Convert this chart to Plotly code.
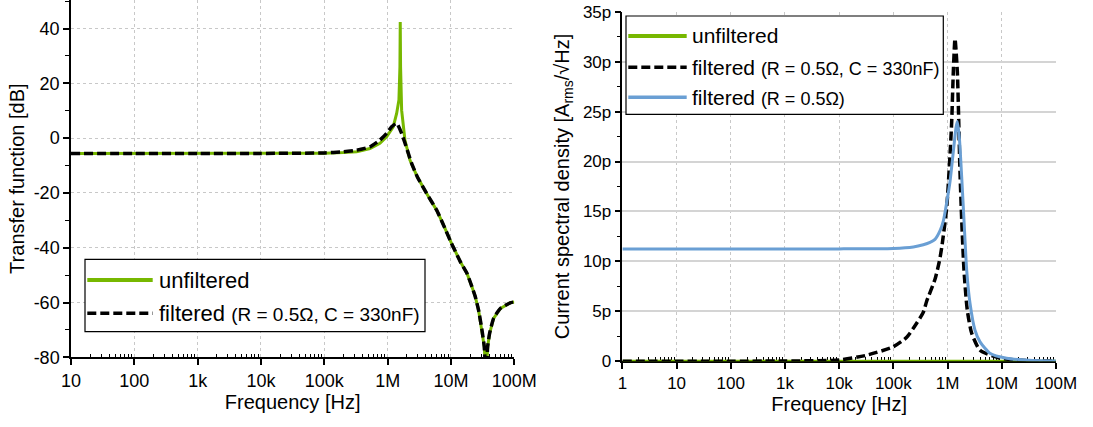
import plotly.graph_objects as go

# ---------------- data ----------------
# Left: transfer function [dB]
tf_freq_unf = [10, 1e2, 1e3, 1e4, 1e5, 2e5, 3.24e5, 5.25e5, 7.55e5, 9.64e5, 1.225e6, 1.387e6,
               1.507e6, 1.563e6, 1.581e6, 1.60e6, 1.663e6, 1.875e6, 2.249e6, 2.938e6, 4.13e6,
               5.94e6, 7.55e6, 1e7, 1.403e7, 1.791e7, 2.148e7, 2.421e7, 2.729e7, 3.09e7, 3.357e7,
               3.597e7, 3.793e7, 4.074e7, 4.71e7, 6.01e7, 8.65e7, 1e8]
tf_db_unf = [-5.6, -5.6, -5.6, -5.6, -5.5, -5.3, -5.0, -3.8, -1.9, 0.5, 4.1, 9.0,
             13.9, 26.0, 42.4, 26.0, 10.2, -0.7, -8.0, -14.1, -20.2,
             -26.3, -31.5, -38.0, -45.1, -49.4, -54.3, -57.9, -62.8, -70.1, -76.2,
             -88.0, -76.2, -71.3, -65.8, -62.2, -60.1, -59.8]

tf_freq_filt = [10, 1e2, 1e3, 1e4, 1e5, 2e5, 3.24e5, 5.25e5, 7.55e5, 9.64e5, 1.156e6, 1.387e6,
                1.663e6, 2.042e6, 2.393e6, 2.938e6, 4.13e6, 5.94e6, 7.55e6, 1e7, 1.403e7,
                1.791e7, 2.148e7, 2.421e7, 2.729e7, 3.09e7, 3.357e7, 3.597e7, 3.793e7, 4.074e7,
                4.71e7, 6.01e7, 8.65e7, 1e8]
tf_db_filt = [-5.6, -5.6, -5.6, -5.6, -5.4, -5.0, -4.4, -3.2, -0.7, 1.7, 4.1, 5.4,
              1.7, -4.4, -9.2, -14.1, -20.2, -26.3, -31.5, -38.0, -45.1,
              -49.4, -54.3, -57.9, -62.8, -70.1, -76.2, -88.0, -76.2, -71.3,
              -65.8, -62.2, -60.1, -59.8]

# Right: current spectral density [pA/sqrt(Hz)]
csd_freq_unf = [1, 1e2, 1e4, 1e6, 1e8]
csd_unf = [0, 0, 0, 0, 0]

csd_freq_rc = [1, 1e3, 1e4, 3.23e4, 1e5, 1.766e5, 2.69e5, 3.57e5, 4.12e5, 5.87e5, 7.06e5, 7.82e5,
               9.66e5, 1.112e6, 1.194e6, 1.279e6, 1.374e6, 1.517e6, 1.611e6, 1.698e6, 1.828e6,
               2.014e6, 2.317e6, 2.793e6, 3.98e6, 9.33e6, 3.16e7, 1e8]
csd_rc = [0.0, 0.02, 0.12, 0.6, 1.45, 2.4, 3.8, 4.9, 6.0, 8.2, 10.0, 11.4,
          15.4, 20.7, 24.0, 29.0, 32.3, 29.0, 24.0, 19.0, 14.1,
          9.1, 5.1, 2.8, 1.1, 0.3, 0.05, 0.02]

csd_freq_r = [1, 10, 1e2, 1e3, 1e4, 1e5, 2.34e5, 3.57e5, 4.75e5, 5.87e5, 7.28e5, 8.38e5, 9.66e5,
              1.112e6, 1.279e6, 1.436e6, 1.517e6, 1.652e6, 1.828e6, 2.014e6, 2.259e6, 2.6e6,
              3.214e6, 3.98e6, 6.05e6, 1.23e7, 3.16e7, 1e8]
csd_r = [11.25, 11.25, 11.25, 11.25, 11.25, 11.3, 11.45, 11.67, 11.9, 12.2, 13.07, 14.06, 15.9,
         18.0, 21.0, 23.4, 24.0, 22.4, 18.4, 14.1, 9.1, 5.8,
         3.1, 1.94, 0.8, 0.3, 0.1, 0.03]

# tick labels
tf_xticks = [10, 1e2, 1e3, 1e4, 1e5, 1e6, 1e7, 1e8]
tf_xtext = ["10", "100", "1k", "10k", "100k", "1M", "10M", "100M"]
csd_xticks = [1, 10, 1e2, 1e3, 1e4, 1e5, 1e6, 1e7, 1e8]
csd_xtext = ["1", "10", "100", "1k", "10k", "100k", "1M", "10M", "100M"]
tf_yticks = [-80, -60, -40, -20, 0, 20, 40]
tf_ytext = ["-80", "-60", "-40", "-20", "0", "20", "40"]
csd_yticks = [0, 5, 10, 15, 20, 25, 30, 35]
csd_ytext = ["0", "5p", "10p", "15p", "20p", "25p", "30p", "35p"]

# ---------------- style ----------------
W, H = 1093, 427
GREEN = "#77b800"
BLUE = "#6a9fd4"
BLACK = "#000000"
FONT = "Arial, Liberation Sans, sans-serif"
DASH = "9px,4px"


def X(px):
    return px / W


def Y(py):
    return 1 - py / H


minor_log_left = [m * 10 ** k for k in range(1, 8) for m in range(2, 10)]
minor_log_right = [m * 10 ** k for k in range(0, 8) for m in range(2, 10)]

fig = go.Figure()

fig.add_trace(go.Scatter(x=tf_freq_unf, y=tf_db_unf, mode="lines", name="unfiltered",
                         line=dict(color=GREEN, width=3), xaxis="x", yaxis="y", showlegend=False))
fig.add_trace(go.Scatter(x=tf_freq_filt, y=tf_db_filt, mode="lines",
                         name="filtered (R = 0.5Ω, C = 330nF)",
                         line=dict(color=BLACK, width=3.5, dash=DASH, shape="spline", smoothing=0.5),
                         xaxis="x", yaxis="y", showlegend=False))

fig.add_trace(go.Scatter(x=csd_freq_unf, y=csd_unf, mode="lines", name="unfiltered",
                         line=dict(color=GREEN, width=3), xaxis="x2", yaxis="y2", showlegend=False,
                         cliponaxis=False))
fig.add_trace(go.Scatter(x=csd_freq_rc, y=csd_rc, mode="lines",
                         name="filtered (R = 0.5Ω, C = 330nF)",
                         line=dict(color=BLACK, width=3.5, dash=DASH, shape="spline", smoothing=0.6),
                         xaxis="x2", yaxis="y2", showlegend=False))
fig.add_trace(go.Scatter(x=csd_freq_r, y=csd_r, mode="lines", name="filtered (R = 0.5Ω)",
                         line=dict(color=BLUE, width=3, shape="spline", smoothing=0.6),
                         xaxis="x2", yaxis="y2", showlegend=False))

axis_common = dict(showline=True, linecolor="black", linewidth=1.5, zeroline=False,
                   automargin=False,
                   tickcolor="black", tickfont=dict(family=FONT, size=18, color="black"),
                   title_font=dict(family=FONT, size=20, color="black"))

fig.update_layout(
    width=W, height=H,
    margin=dict(l=0, r=0, t=0, b=0, pad=0, autoexpand=False),
    paper_bgcolor="white", plot_bgcolor="white",
    font=dict(family=FONT, color="black"),
    showlegend=False,
    xaxis=dict(axis_common, type="log", domain=[X(71), X(514.3)], range=[1, 8], anchor="y",
               tickmode="array", tickvals=tf_xticks, ticktext=tf_xtext,
               ticks="outside", ticklen=6, tickwidth=1.5,
               showgrid=True, gridcolor="#c8c8c8", gridwidth=1, griddash="3px,3px",
               minor=dict(tickmode="array", tickvals=minor_log_left, ticks="inside", ticklen=4,
                          tickwidth=1.2, tickcolor="black", showgrid=False),
               title=dict(text="Frequency [Hz]", standoff=3)),
    yaxis=dict(axis_common, domain=[Y(357.3), 1.0], range=[-80, 50.4], anchor="x",
               tickmode="array", tickvals=tf_yticks, ticktext=tf_ytext,
               ticks="outside", ticklen=6, tickwidth=1.5,
               showgrid=True, gridcolor="#c8c8c8", gridwidth=1, griddash="3px,3px",
               minor=dict(dtick=10, ticks="outside", ticklen=4, tickwidth=1.2, tickcolor="black",
                          showgrid=False),
               title=dict(text="Transfer function [dB]", standoff=4)),
    xaxis2=dict(axis_common, type="log", domain=[X(622.4), X(1055.9)], range=[0, 8], anchor="y2",
                tickmode="array", tickvals=csd_xticks, ticktext=csd_xtext,
                ticks="outside", ticklen=6, tickwidth=1.5, layer="below traces",
                tickfont=dict(family=FONT, size=17, color="black"),
                showgrid=True, gridcolor="#c8c8c8", gridwidth=1, griddash="3px,3px",
                minor=dict(tickmode="array", tickvals=minor_log_right, ticks="inside", ticklen=4,
                           tickwidth=1.2, tickcolor="black", showgrid=False),
                title=dict(text="Frequency [Hz]", standoff=3)),
    yaxis2=dict(axis_common, domain=[Y(361.2), Y(11.8)], range=[0, 35], anchor="x2",
                tickmode="array", tickvals=csd_yticks, ticktext=csd_ytext,
                tickfont=dict(family=FONT, size=17, color="black"),
                ticks="outside", ticklen=6, tickwidth=1.5,
                showgrid=True, gridcolor="#d4d4d4", gridwidth=1.5,
                minor=dict(dtick=2.5, ticks="outside", ticklen=4, tickwidth=1.2, tickcolor="black",
                           showgrid=False),
                title=dict(text="Current spectral density [A<sub>rms</sub>/√Hz]", standoff=8)),
)

# ---------------- custom legends ----------------
shapes = []
annots = []


def legend_box(x0, x1, y0, y1):
    shapes.append(dict(type="rect", xref="paper", yref="paper", x0=X(x0), x1=X(x1),
                       y0=Y(y1), y1=Y(y0), line=dict(color="black", width=1.2),
                       fillcolor="white", layer="above"))


def legend_item(x0, x1, y, color, width, dash, text, tx, size_main):
    shapes.append(dict(type="line", xref="paper", yref="paper", x0=X(x0), x1=X(x1),
                       y0=Y(y), y1=Y(y), line=dict(color=color, width=width, dash=dash),
                       layer="above"))
    annots.append(dict(xref="paper", yref="paper", x=X(tx), y=Y(y), xanchor="left",
                       yanchor="middle", showarrow=False, text=text,
                       font=dict(family=FONT, size=size_main, color="black")))


legend_box(85, 425, 259.3, 331.7)
legend_item(87.3, 152.7, 280, GREEN, 4, "solid", "unfiltered", 157, 22)
legend_item(87.3, 152.7, 313.3, BLACK, 3.5, DASH,
            'filtered <span style="font-size:19px">(R = 0.5Ω, C = 330nF)</span>', 157, 22)

legend_box(626, 943.3, 16, 114.3)
legend_item(628.3, 686.7, 36, GREEN, 4, "solid", "unfiltered", 690, 21)
legend_item(628.3, 686.7, 67.3, BLACK, 3.5, DASH,
            'filtered <span style="font-size:18px">(R = 0.5Ω, C = 330nF)</span>', 690, 21)
legend_item(628.3, 686.7, 97.3, BLUE, 3.5, "solid",
            'filtered <span style="font-size:18px">(R = 0.5Ω)</span>', 690, 21)

fig.update_layout(shapes=shapes, annotations=annots)

fig.write_html("out.html")
